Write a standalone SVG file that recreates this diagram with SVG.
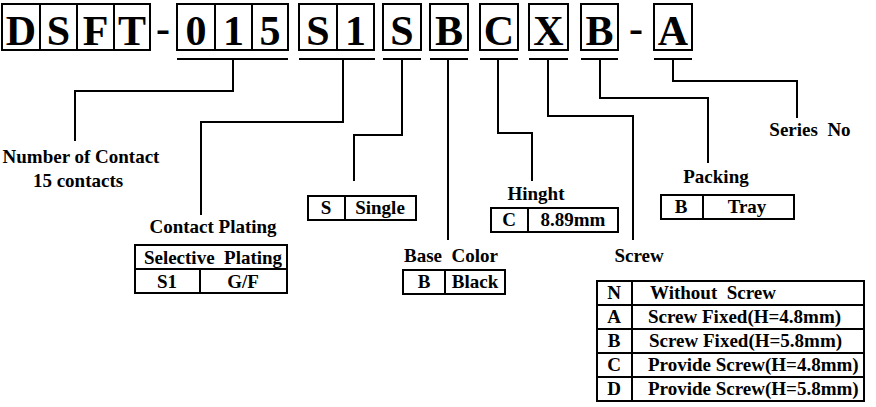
<svg xmlns="http://www.w3.org/2000/svg" width="876" height="407" viewBox="0 0 876 407">
<style>
.bg{fill:#fff}
.box{fill:#fff;stroke:#000;stroke-width:2}
.ln{fill:none;stroke:#000;stroke-width:2}
.big{font-family:"Liberation Serif","Times New Roman",serif;font-weight:bold;font-size:42px;text-anchor:middle;fill:#000}
.lbl{font-family:"Liberation Serif","Times New Roman",serif;font-weight:bold;font-size:19px;text-anchor:middle;fill:#000;white-space:pre}
.cell{font-family:"Liberation Serif","Times New Roman",serif;font-weight:bold;font-size:19px;text-anchor:middle;fill:#000;white-space:pre}
.cellL{font-family:"Liberation Serif","Times New Roman",serif;font-weight:bold;font-size:19px;text-anchor:start;fill:#000;white-space:pre}
</style>
<rect class="bg" x="0" y="0" width="876" height="407"/>

<g id="code">
  <rect class="box" x="2" y="4" width="38" height="46"/>
  <rect class="box" x="40" y="4" width="37" height="46"/>
  <rect class="box" x="77" y="4" width="37" height="46"/>
  <rect class="box" x="114" y="4" width="36" height="46"/>
  <text class="big" x="21" y="45">D</text>
  <text class="big" x="58.5" y="45">S</text>
  <text class="big" x="95.5" y="45">F</text>
  <text class="big" x="132" y="45">T</text>
  <text class="big" x="163" y="42">-</text>
  <rect class="box" x="177" y="4" width="38" height="46"/>
  <rect class="box" x="215" y="4" width="37" height="46"/>
  <rect class="box" x="252" y="4" width="36" height="46"/>
  <text class="big" x="196" y="45">0</text>
  <text class="big" x="233.5" y="45">1</text>
  <text class="big" x="270" y="45">5</text>
  <rect class="box" x="299" y="4" width="38" height="46"/>
  <rect class="box" x="337" y="4" width="37" height="46"/>
  <text class="big" x="318" y="45">S</text>
  <text class="big" x="355.5" y="45">1</text>
  <rect class="box" x="383" y="4" width="38" height="46"/>
  <text class="big" x="402" y="45">S</text>
  <rect class="box" x="430" y="4" width="38" height="46"/>
  <text class="big" x="449" y="45">B</text>
  <rect class="box" x="480" y="4" width="38" height="46"/>
  <text class="big" x="499" y="45">C</text>
  <rect class="box" x="529" y="4" width="39" height="46"/>
  <text class="big" x="548.5" y="45">X</text>
  <rect class="box" x="581" y="4" width="37" height="46"/>
  <text class="big" x="599.5" y="45">B</text>
  <text class="big" x="636" y="42">-</text>
  <rect class="box" x="654" y="4" width="38" height="46"/>
  <text class="big" x="673" y="45">A</text>
</g>

<g id="connectors">
  <path class="ln" d="M177 59H288M299 59H375M383 59H421M430 59H468M480 59H518M529 59H568M581 59H618M654 59H692"/>
  <path class="ln" d="M233 59V91H75V141"/>
  <path class="ln" d="M343 59V122H201V215"/>
  <path class="ln" d="M402 59V135H354V181"/>
  <path class="ln" d="M448 59V240"/>
  <path class="ln" d="M498 59V133H532V181"/>
  <path class="ln" d="M548 59V116H633V240"/>
  <path class="ln" d="M600 59V98H708V163"/>
  <path class="ln" d="M673 59V81H797V118"/>
</g>

<g id="contacts">
  <text class="lbl" x="81" y="163">Number of Contact</text>
  <text class="lbl" x="78" y="187">15 contacts</text>
</g>

<g id="plating">
  <text class="lbl" x="213" y="233">Contact Plating</text>
  <rect class="box" x="135" y="245" width="152" height="48"/>
  <path class="ln" d="M135 269H287M200 269V293"/>
  <text class="cell" x="213" y="264">Selective  Plating</text>
  <text class="cell" x="167" y="288">S1</text>
  <text class="cell" x="243" y="288">G/F</text>
</g>

<g id="single">
  <rect class="box" x="308" y="196" width="108" height="24"/>
  <path class="ln" d="M345 196V220"/>
  <text class="cell" x="326" y="214">S</text>
  <text class="cell" x="380" y="214">Single</text>
</g>

<g id="basecolor">
  <text class="lbl" x="451" y="262">Base  Color</text>
  <rect class="box" x="403" y="270" width="102" height="24"/>
  <path class="ln" d="M445 270V294"/>
  <text class="cell" x="424" y="288">B</text>
  <text class="cell" x="475" y="288">Black</text>
</g>

<g id="height">
  <text class="lbl" x="536" y="200">Hinght</text>
  <rect class="box" x="491" y="208" width="127" height="24"/>
  <path class="ln" d="M528 208V232"/>
  <text class="cell" x="509" y="226">C</text>
  <text class="cell" x="573" y="226">8.89mm</text>
</g>

<g id="packing">
  <text class="lbl" x="716" y="183">Packing</text>
  <rect class="box" x="661" y="195" width="133" height="24"/>
  <path class="ln" d="M703 195V219"/>
  <text class="cell" x="681" y="213">B</text>
  <text class="cell" x="747" y="213">Tray</text>
</g>

<g id="series">
  <text class="lbl" x="810" y="136">Series  No</text>
</g>

<g id="screw">
  <text class="lbl" x="639" y="262">Screw</text>
  <rect class="box" x="597" y="281" width="267" height="120"/>
  <path class="ln" d="M597 305H864M597 329H864M597 353H864M597 377H864M632 281V401"/>
  <text class="cell" x="614" y="299">N</text>
  <text class="cell" x="614" y="323">A</text>
  <text class="cell" x="614" y="347">B</text>
  <text class="cell" x="614" y="371">C</text>
  <text class="cell" x="614" y="395">D</text>
  <text class="cellL" x="650" y="299">Without  Screw</text>
  <text class="cellL" x="648" y="323">Screw Fixed(H=4.8mm)</text>
  <text class="cellL" x="649" y="347">Screw Fixed(H=5.8mm)</text>
  <text class="cellL" x="648" y="371">Provide Screw(H=4.8mm)</text>
  <text class="cellL" x="648" y="395">Provide Screw(H=5.8mm)</text>
</g>
</svg>
